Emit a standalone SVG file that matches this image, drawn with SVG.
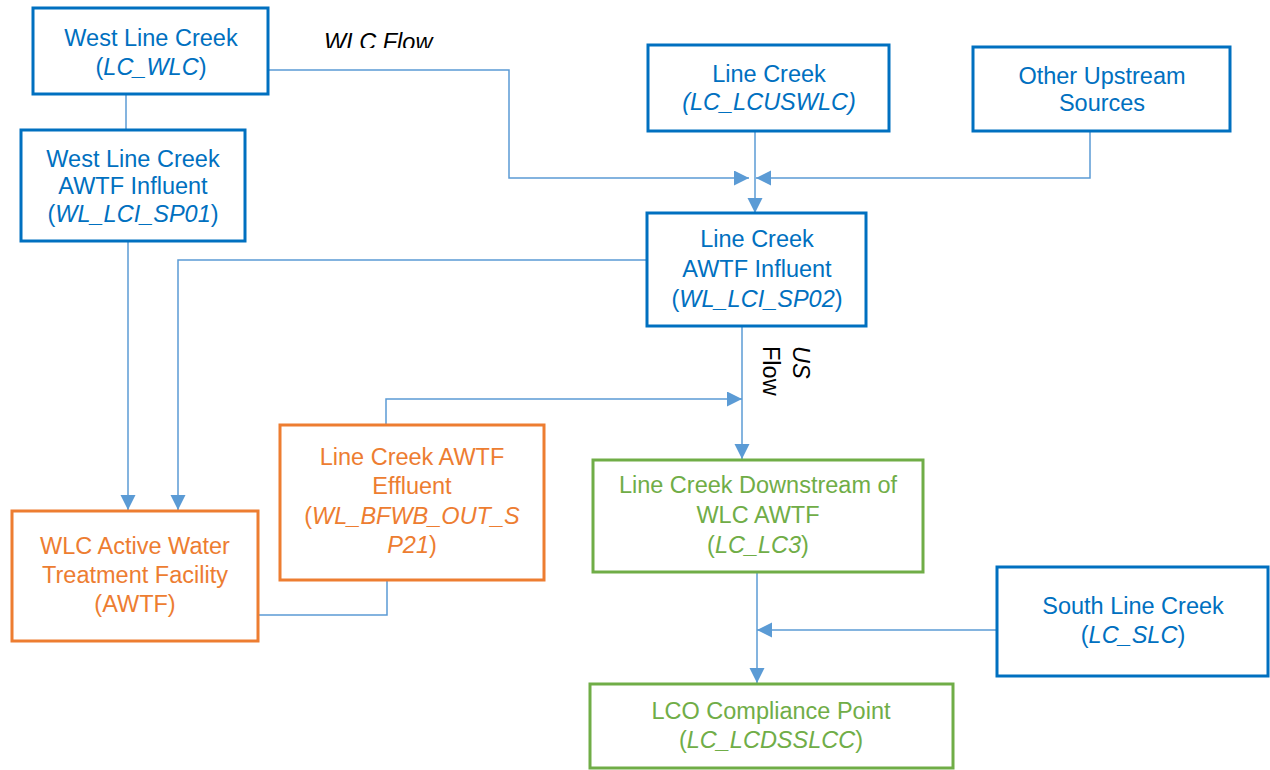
<svg xmlns="http://www.w3.org/2000/svg" width="1270" height="770" viewBox="0 0 1270 770">
  <style>
    text { font-family: "Liberation Sans", Arial, sans-serif; font-size: 23.5px; text-anchor: middle; }
    .box { fill: #ffffff; stroke-width: 3; }
    .blue rect { stroke: #0070C0; }
    .blue text { fill: #0070C0; }
    .orange rect { stroke: #ED7D31; }
    .orange text { fill: #ED7D31; }
    .green rect { stroke: #70AD47; }
    .green text { fill: #70AD47; }
    .it { font-style: italic; }
    .wire { fill: none; stroke: #5B9BD5; stroke-width: 1.5; }
    .lbl { fill: #000000; text-anchor: start; }
  </style>
  <defs>
    <marker id="arrow" markerUnits="userSpaceOnUse" markerWidth="16" markerHeight="16" refX="15" refY="7.5" orient="auto">
      <path d="M0,0 L15,7.5 L0,15 z" fill="#5B9BD5"/>
    </marker>
    <clipPath id="clipTop">
      <rect x="0" y="0" width="1270" height="48"/>
    </clipPath>
  </defs>
  <rect width="1270" height="770" fill="#ffffff"/>

  <g id="connectors">
    <!-- West Line Creek to its AWTF influent -->
    <path class="wire" d="M126,94 V130"/>
    <!-- WLC flow into Line Creek influent -->
    <path class="wire" d="M268,70 H509 V178 H749" marker-end="url(#arrow)"/>
    <!-- Line Creek down to influent -->
    <path class="wire" d="M755,131 V213" marker-end="url(#arrow)"/>
    <!-- Other upstream sources -->
    <path class="wire" d="M1090,131 V178 H756" marker-end="url(#arrow)"/>
    <!-- WLC AWTF influent into treatment facility -->
    <path class="wire" d="M128,241 V510" marker-end="url(#arrow)"/>
    <!-- Line Creek influent into treatment facility -->
    <path class="wire" d="M647,260 H178 V510" marker-end="url(#arrow)"/>
    <!-- US flow down to downstream station -->
    <path class="wire" d="M742,326 V459" marker-end="url(#arrow)"/>
    <!-- Effluent into US flow -->
    <path class="wire" d="M386,425 V399 H742" marker-end="url(#arrow)"/>
    <!-- Treatment facility to effluent -->
    <path class="wire" d="M259,615 H387 V580"/>
    <!-- Downstream station to compliance point -->
    <path class="wire" d="M757,572 V683" marker-end="url(#arrow)"/>
    <!-- South Line Creek -->
    <path class="wire" d="M997,630 H757" marker-end="url(#arrow)"/>
  </g>

  <g id="labels">
    <text class="lbl it" x="324" y="50" clip-path="url(#clipTop)">WLC Flow</text>
    <g transform="translate(793,346) rotate(90)">
      <text class="lbl it" x="0" y="0">US</text>
      <text class="lbl" x="0" y="30">Flow</text>
    </g>
  </g>

  <g id="west-line-creek" class="blue">
    <rect class="box" x="33" y="8" width="235" height="86"/>
    <text x="151" y="46">West Line Creek</text>
    <text x="151" y="75">(<tspan class="it">LC_WLC</tspan>)</text>
  </g>

  <g id="wlc-awtf-influent" class="blue">
    <rect class="box" x="21" y="130" width="224" height="111"/>
    <text x="133" y="167">West Line Creek</text>
    <text x="133" y="194">AWTF Influent</text>
    <text x="133" y="222">(<tspan class="it">WL_LCI_SP01</tspan>)</text>
  </g>

  <g id="line-creek" class="blue">
    <rect class="box" x="648" y="45" width="241" height="86"/>
    <text x="769" y="82">Line Creek</text>
    <text x="769" y="110" class="it">(LC_LCUSWLC)</text>
  </g>

  <g id="other-upstream" class="blue">
    <rect class="box" x="973" y="47" width="257" height="84"/>
    <text x="1102" y="84">Other Upstream</text>
    <text x="1102" y="111">Sources</text>
  </g>

  <g id="lc-awtf-influent" class="blue">
    <rect class="box" x="647" y="213" width="219" height="113"/>
    <text x="757" y="247">Line Creek</text>
    <text x="757" y="277">AWTF Influent</text>
    <text x="757" y="307">(<tspan class="it">WL_LCI_SP02</tspan>)</text>
  </g>

  <g id="wlc-awtf" class="orange">
    <rect class="box" x="12" y="511" width="246" height="130"/>
    <text x="135" y="554">WLC Active Water</text>
    <text x="135" y="583">Treatment Facility</text>
    <text x="135" y="612">(AWTF)</text>
  </g>

  <g id="lc-awtf-effluent" class="orange">
    <rect class="box" x="280" y="425" width="264" height="155"/>
    <text x="412" y="465">Line Creek AWTF</text>
    <text x="412" y="494">Effluent</text>
    <text x="412" y="524">(<tspan class="it">WL_BFWB_OUT_S</tspan></text>
    <text x="412" y="553"><tspan class="it">P21</tspan>)</text>
  </g>

  <g id="lc-downstream" class="green">
    <rect class="box" x="593" y="460" width="330" height="112"/>
    <text x="758" y="493">Line Creek Downstream of</text>
    <text x="758" y="523">WLC AWTF</text>
    <text x="758" y="553">(<tspan class="it">LC_LC3</tspan>)</text>
  </g>

  <g id="south-line-creek" class="blue">
    <rect class="box" x="997" y="567" width="271" height="109"/>
    <text x="1133" y="614">South Line Creek</text>
    <text x="1133" y="643">(<tspan class="it">LC_SLC</tspan>)</text>
  </g>

  <g id="lco-compliance" class="green">
    <rect class="box" x="590" y="684" width="363" height="84"/>
    <text x="771" y="719">LCO Compliance Point</text>
    <text x="771" y="748">(<tspan class="it">LC_LCDSSLCC</tspan>)</text>
  </g>
</svg>
